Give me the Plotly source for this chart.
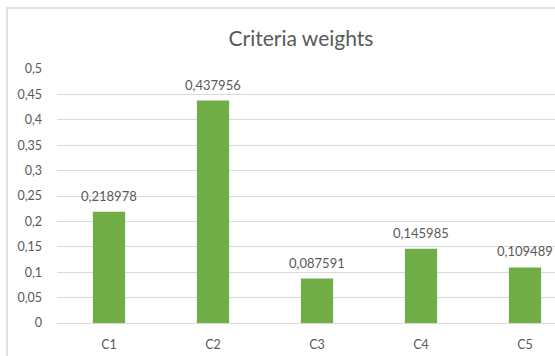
import plotly.graph_objects as go

categories = ["C1", "C2", "C3", "C4", "C5"]
weights = [0.218978, 0.437956, 0.087591, 0.145985, 0.109489]
y_ticks = [0, 0.05, 0.1, 0.15, 0.2, 0.25, 0.3, 0.35, 0.4, 0.45, 0.5]

W, H = 555, 356
ML, MR, MT, MB = 57, 0, 69, 33
plot_w = W - ML - MR
plot_h = H - MT - MB

TEXT = "#595959"
GRID = "#D9D9D9"
FONT = "Lato, 'Open Sans', sans-serif"


def fmt(v):
    s = f"{v:.6f}".rstrip("0").rstrip(".")
    return s.replace(".", ",")


fig = go.Figure(
    go.Bar(
        x=list(range(len(categories))),
        y=weights,
        width=0.31,
        marker=dict(color="#70AD47", line=dict(width=0)),
        hoverinfo="skip",
    )
)

for i, v in enumerate(weights):
    fig.add_annotation(
        x=i, y=v, text=fmt(v), showarrow=False,
        yanchor="middle", yshift=16,
        font=dict(size=13, color=TEXT, family=FONT),
    )


def px_to_paper_x(px):
    return (px - ML) / plot_w


def px_to_paper_y(py):
    return (H - MB - py) / plot_h


# light chart-area border (right and bottom edges run off the canvas)
fig.add_shape(
    type="rect", xref="paper", yref="paper",
    x0=px_to_paper_x(7), x1=px_to_paper_x(600),
    y0=px_to_paper_y(400), y1=px_to_paper_y(8),
    line=dict(color="#D9D9D9", width=1.5), fillcolor="rgba(0,0,0,0)",
    layer="below",
)

fig.update_layout(
    width=W, height=H,
    margin=dict(l=ML, r=MR, t=MT, b=MB, pad=0),
    paper_bgcolor="white", plot_bgcolor="white",
    showlegend=False,
    font=dict(family=FONT, color=TEXT, size=12),
    title=dict(
        text="Criteria weights",
        x=px_to_paper_x(301), xref="paper", xanchor="center",
        y=1 - 39 / H, yref="container", yanchor="middle",
        font=dict(size=21, color=TEXT, family=FONT),
    ),
    xaxis=dict(
        range=[-0.5, -0.5 + plot_w / 104],
        tickmode="array",
        tickvals=list(range(len(categories))),
        ticktext=categories,
        showgrid=False, zeroline=False, showline=False,
        ticks="", ticklabelstandoff=12,
        tickfont=dict(size=12.5, color=TEXT),
        fixedrange=True,
    ),
    yaxis=dict(
        range=[0, 0.5],
        tickmode="array",
        tickvals=y_ticks,
        ticktext=[fmt(t) for t in y_ticks],
        showgrid=True, gridcolor=GRID, gridwidth=1,
        zeroline=True, zerolinecolor=GRID, zerolinewidth=1,
        showline=False, ticks="", ticklabelstandoff=14,
        tickfont=dict(size=12.5, color=TEXT),
        fixedrange=True,
    ),
)

fig.write_html("out.html", config={"displayModeBar": False})
